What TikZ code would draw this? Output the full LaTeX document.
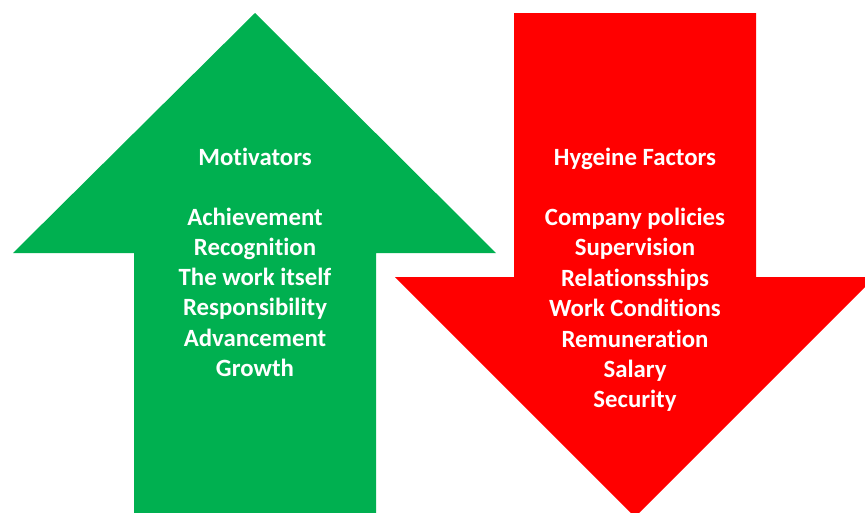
\documentclass[tikz,border=0pt]{standalone}
\usepackage{fontspec}
\setmainfont{Carlito}[RawFeature={-liga;-clig}]
\definecolor{upgreen}{HTML}{00B050}
\definecolor{downred}{HTML}{FF0000}
\tikzset{
  arrowtext/.style={text=white, font=\fontsize{24.8}{30}\selectfont\bfseries, anchor=base, inner sep=0pt},
}
\begin{document}
\begin{tikzpicture}[x=1pt, y=-1pt]
\useasboundingbox (0,0) rectangle (865,512);
\clip (0,0) rectangle (865,512);
% green up arrow
\fill[upgreen] (255,13) -- (496,253) -- (376,253) -- (376,520) -- (134,520) -- (134,253) -- (13,253) -- cycle;
% red down arrow
\fill[downred] (514,13) -- (756,13) -- (756,277) -- (875,277) -- (635,517) -- (395,277) -- (514,277) -- cycle;
% green text
\node[arrowtext] (m0) at (255,165) {Motivators};
\node[arrowtext] (m1) at (255,225) {Achievement};
\node[arrowtext] (m2) at (255,255) {Recognition};
\node[arrowtext] (m3) at (255,285) {The work itself};
\node[arrowtext] (m4) at (255,315) {Responsibility};
\node[arrowtext] (m5) at (255,346) {Advancement};
\node[arrowtext] (m6) at (255,376) {Growth};
% red text
\node[arrowtext] (h0) at (635,165) {Hygeine Factors};
\node[arrowtext] (h1) at (635,225) {Company policies};
\node[arrowtext] (h2) at (635,255) {Supervision};
\node[arrowtext] (h3) at (635,286) {Relationsships};
\node[arrowtext] (h4) at (635,316) {Work Conditions};
\node[arrowtext] (h5) at (635,347) {Remuneration};
\node[arrowtext] (h6) at (635,377) {Salary};
\node[arrowtext] (h7) at (635,407) {Security};
\end{tikzpicture}
\end{document}
